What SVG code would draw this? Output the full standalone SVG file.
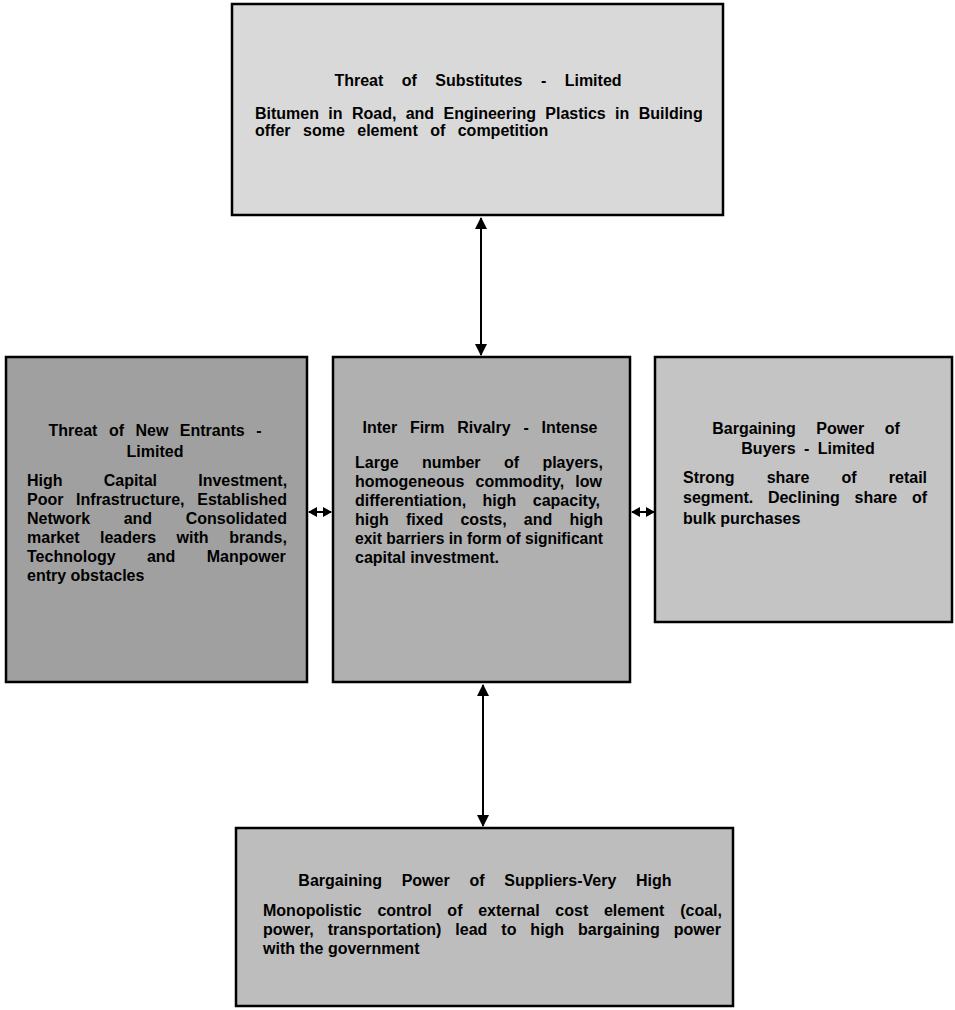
<svg xmlns="http://www.w3.org/2000/svg" width="955" height="1010" viewBox="0 0 955 1010">
<defs>
<marker id="ah" markerWidth="12" markerHeight="12" refX="11" refY="6" orient="auto-start-reverse" markerUnits="userSpaceOnUse">
<path d="M0,0 L12,6 L0,12 Z" fill="#000"/>
</marker>
<marker id="ahs" markerWidth="9" markerHeight="10" refX="8" refY="5" orient="auto-start-reverse" markerUnits="userSpaceOnUse">
<path d="M0,0 L9,5 L0,10 Z" fill="#000"/>
</marker>
</defs>
<style>
.box{stroke:#000;stroke-width:2.5}
.t{font-family:"Liberation Sans",Arial,sans-serif;font-weight:bold;font-size:16px;fill:#000}
.c{text-anchor:middle}
.conn{stroke:#000;stroke-width:2;fill:none}
</style>
<rect width="955" height="1010" fill="#fff"/>
<g id="connectors">
<line class="conn" x1="481" y1="218" x2="481" y2="355" marker-start="url(#ah)" marker-end="url(#ah)"/>
<line class="conn" x1="483" y1="685" x2="483" y2="826" marker-start="url(#ah)" marker-end="url(#ah)"/>
<line class="conn" x1="309" y1="512" x2="331" y2="512" marker-start="url(#ahs)" marker-end="url(#ahs)"/>
<line class="conn" x1="632" y1="512" x2="654" y2="512" marker-start="url(#ahs)" marker-end="url(#ahs)"/>
</g>
<g id="substitutes">
<rect class="box" x="232" y="4" width="491" height="211" fill="#d9d9d9"/>
<text class="t c" x="478" y="86" word-spacing="14">Threat of Substitutes - Limited</text>
<text class="t" x="255" y="119" word-spacing="4.9">Bitumen in Road, and Engineering Plastics in Building</text>
<text class="t" x="255" y="136" word-spacing="8">offer some element of competition</text>
</g>
<g id="new-entrants">
<rect class="box" x="6" y="357" width="301" height="325" fill="#a0a0a0"/>
<text class="t c" x="155" y="436" word-spacing="7">Threat of New Entrants -</text>
<text class="t c" x="155" y="457">Limited</text>
<text class="t" x="27" y="486" word-spacing="36.7">High Capital Investment,</text>
<text class="t" x="27" y="505" word-spacing="8.2">Poor Infrastructure, Established</text>
<text class="t" x="27" y="524" word-spacing="29.1">Network and Consolidated</text>
<text class="t" x="27" y="543" word-spacing="16.1">market leaders with brands,</text>
<text class="t" x="27" y="562" word-spacing="26.9">Technology and Manpower</text>
<text class="t" x="27" y="581">entry obstacles</text>
</g>
<g id="rivalry">
<rect class="box" x="333" y="357" width="297" height="325" fill="#b0b0b0"/>
<text class="t c" x="480" y="433" word-spacing="8.3">Inter Firm Rivalry - Intense</text>
<text class="t" x="355" y="468" word-spacing="18.9">Large number of players,</text>
<text class="t" x="355" y="487" word-spacing="6.7">homogeneous commodity, low</text>
<text class="t" x="355" y="506" word-spacing="12">differentiation, high capacity,</text>
<text class="t" x="355" y="525" word-spacing="12.7">high fixed costs, and high</text>
<text class="t" x="355" y="544" textLength="248" lengthAdjust="spacingAndGlyphs">exit barriers in form of significant</text>
<text class="t" x="355" y="563">capital investment.</text>
</g>
<g id="buyers">
<rect class="box" x="655" y="357" width="297" height="265" fill="#c4c4c4"/>
<text class="t c" x="806" y="434" word-spacing="16">Bargaining Power of</text>
<text class="t c" x="808" y="454" word-spacing="4">Buyers - Limited</text>
<text class="t" x="683" y="483" word-spacing="27.7">Strong share of retail</text>
<text class="t" x="683" y="503" word-spacing="10.2">segment. Declining share of</text>
<text class="t" x="683" y="524">bulk purchases</text>
</g>
<g id="suppliers">
<rect class="box" x="236" y="828" width="497" height="178" fill="#bdbdbd"/>
<text class="t c" x="485" y="886" word-spacing="15.3">Bargaining Power of Suppliers-Very High</text>
<text class="t" x="263" y="916" word-spacing="11.3">Monopolistic control of external cost element (coal,</text>
<text class="t" x="263" y="935" word-spacing="9.5">power, transportation) lead to high bargaining power</text>
<text class="t" x="263" y="954">with the government</text>
</g>
</svg>
